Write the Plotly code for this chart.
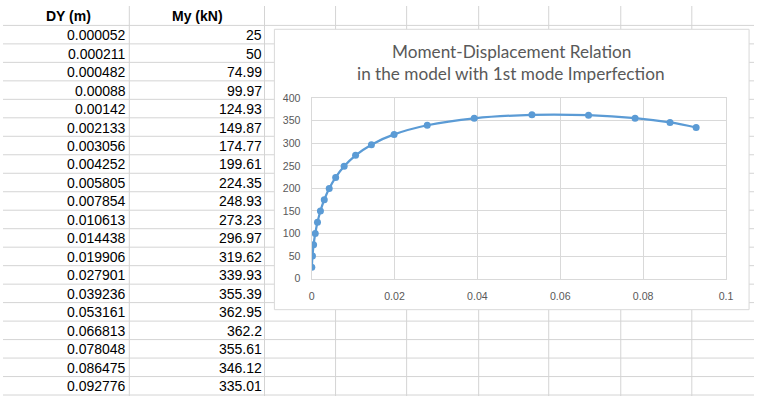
import plotly.graph_objects as go

# ---- data ----
dy_m = [0.000052, 0.000211, 0.000482, 0.00088, 0.00142, 0.002133, 0.003056,
        0.004252, 0.005805, 0.007854, 0.010613, 0.014438, 0.019906, 0.027901,
        0.039236, 0.053161, 0.066813, 0.078048, 0.086475, 0.092776]
my_kn = [25, 50, 74.99, 99.97, 124.93, 149.87, 174.77, 199.61, 224.35, 248.93,
         273.23, 296.97, 319.62, 339.93, 355.39, 362.95, 362.2, 355.61, 346.12,
         335.01]
col_headers = ["DY (m)", "My (kN)"]
title_lines = ["Moment-Displacement Relation", "in the model with 1st mode Imperfection"]
x_ticks = [0, 0.02, 0.04, 0.06, 0.08, 0.1]
x_tick_text = ["0", "0.02", "0.04", "0.06", "0.08", "0.1"]
y_ticks = [0, 50, 100, 150, 200, 250, 300, 350, 400]

# ---- page geometry (pixels) ----
W, H = 761, 402
def X(px):
    return px / W
def Y(py):
    return 1 - py / H

ROW0 = 20.0
ROWH = 19.05
grid_color = "#d4d4d4"
col_lines = [128, 265, 337, 409, 482, 553, 626, 698]

def fmt(v):
    s = format(v, ".6f").rstrip("0").rstrip(".")
    return s

shapes = []
# spreadsheet gridlines
for k in range(21):
    yy = ROW0 + k * ROWH
    shapes.append(dict(type="line", xref="paper", yref="paper", x0=0, x1=1,
                       y0=Y(yy), y1=Y(yy), line=dict(color=grid_color, width=1),
                       layer="below"))
for cx in col_lines:
    shapes.append(dict(type="line", xref="paper", yref="paper", x0=X(cx), x1=X(cx),
                       y0=0, y1=1, line=dict(color=grid_color, width=1), layer="below"))
# chart area box
shapes.append(dict(type="rect", xref="paper", yref="paper", x0=X(275), x1=X(756),
                   y0=Y(313), y1=Y(24), fillcolor="white",
                   line=dict(color="#d9d9d9", width=1), layer="below"))

annotations = []
cell_font = dict(family="Liberation Sans, Arial, sans-serif", size=14, color="#000000")
annotations.append(dict(text="<b>%s</b>" % col_headers[0], x=X(66), y=Y(10.5),
                        xref="paper", yref="paper", xanchor="center", yanchor="middle",
                        showarrow=False, font=cell_font))
annotations.append(dict(text="<b>%s</b>" % col_headers[1], x=X(197), y=Y(10.5),
                        xref="paper", yref="paper", xanchor="center", yanchor="middle",
                        showarrow=False, font=cell_font))
for k, (a, b) in enumerate(zip(dy_m, my_kn)):
    cy = ROW0 + k * ROWH + ROWH / 2 + 0.5
    annotations.append(dict(text=fmt(a), x=X(127), y=Y(cy), xref="paper", yref="paper",
                            xanchor="right", yanchor="middle", showarrow=False,
                            font=cell_font))
    annotations.append(dict(text=fmt(b), x=X(264), y=Y(cy), xref="paper", yref="paper",
                            xanchor="right", yanchor="middle", showarrow=False,
                            font=cell_font))

title_font = dict(family="Lato, Carlito, sans-serif", size=17.2, color="#595959")
for ln, cy in zip(title_lines, [46.5, 69.5]):
    annotations.append(dict(text=ln, x=X(515), y=Y(cy), xref="paper", yref="paper",
                            xanchor="center", yanchor="middle", showarrow=False,
                            font=title_font))

fig = go.Figure()
fig.add_trace(go.Scatter(
    x=dy_m, y=my_kn, mode="lines+markers",
    line=dict(color="#5b9bd5", width=2.25, shape="spline", smoothing=1),
    marker=dict(color="#5b9bd5", size=7),
    showlegend=False, hoverinfo="skip"))

tick_font = dict(family="Liberation Sans, Arial, sans-serif", size=10.6, color="#595959")
fig.update_layout(
    width=W, height=H,
    margin=dict(l=0, r=0, t=0, b=0),
    paper_bgcolor="white", plot_bgcolor="rgba(0,0,0,0)",
    shapes=shapes, annotations=annotations,
    xaxis=dict(domain=[X(312.7), X(732.7)], range=[0, 0.1], tickvals=x_ticks,
               ticktext=x_tick_text, showgrid=True, gridcolor="#d9d9d9", gridwidth=1,
               zeroline=False, showline=True, linecolor="#d9d9d9", mirror=True,
               ticks="", tickfont=tick_font, ticklabelstandoff=8, fixedrange=True),
    yaxis=dict(domain=[Y(281), Y(95)], range=[0, 400], tickvals=y_ticks,
               showgrid=True, gridcolor="#d9d9d9", gridwidth=1,
               zeroline=False, showline=True, linecolor="#d9d9d9", mirror=True,
               ticks="", tickfont=tick_font, ticklabelstandoff=8, fixedrange=True),
)

fig.write_html("out.html", config={"displayModeBar": False},
               post_script="document.body.style.margin='0';document.body.style.overflow='hidden';")
